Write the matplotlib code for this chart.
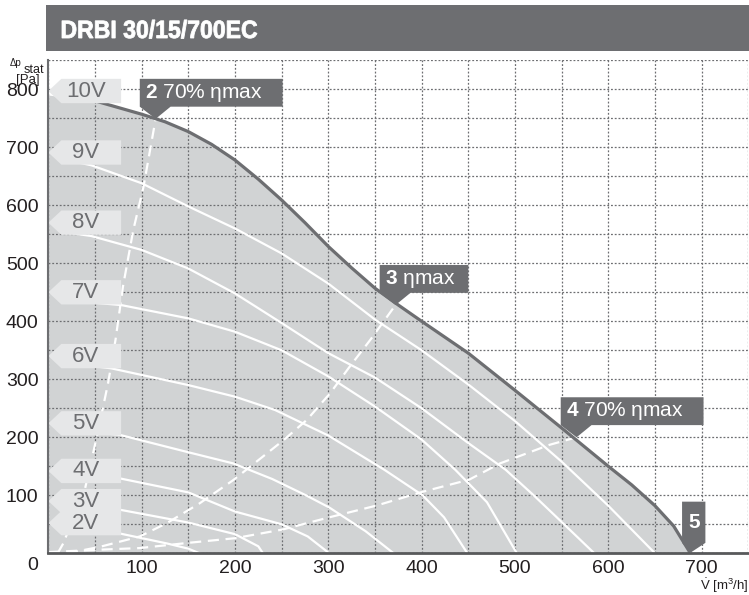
import matplotlib
matplotlib.use('Agg')
import matplotlib.pyplot as plt
from matplotlib.patches import Polygon, Rectangle, PathPatch
from matplotlib.textpath import TextPath
from matplotlib.font_manager import FontProperties
from matplotlib.transforms import Affine2D

plt.rcParams['font.family'] = ['Liberation Sans', 'DejaVu Sans']
plt.rcParams['mathtext.fontset'] = 'custom'
plt.rcParams['mathtext.rm'] = 'Liberation Sans'
plt.rcParams['mathtext.bf'] = 'Liberation Sans:bold'

DARK = '#6d6e71'
FILL = '#d1d3d4'
LABEL_BG = '#e6e7e8'
INK = '#231f20'

TITLE = 'DRBI 30/15/700EC'

# max curve (10V) - first point only closes the fill at the axis
max_x = [0, 50, 100, 125, 150, 175, 200, 225, 250, 275, 300, 325, 350, 375, 400,
         450, 500, 550, 600, 625, 650, 670, 688]
max_y = [790, 780, 757, 744, 727, 705, 678, 645, 609, 570, 529, 492, 457, 428, 400,
         345, 281, 216, 150, 118, 82, 47, 0]

# speed curves 9V .. 2V
v9_x = [20, 46, 100, 150, 200, 250, 300, 350, 400, 450, 500, 550, 600, 650]
v9_y = [678, 669, 638, 598, 560, 517, 465, 403, 350, 291, 228, 158, 82, 0]
v8_x = [20, 46, 100, 150, 200, 250, 300, 350, 400, 450, 490, 520, 550, 585]
v8_y = [553, 547, 523, 491, 448, 397, 345, 303, 250, 190, 144, 100, 54, 0]
v7_x = [20, 78, 150, 200, 250, 300, 350, 400, 436, 470, 502]
v7_y = [436, 428, 405, 382, 350, 305, 253, 196, 144, 88, 0]
v6_x = [20, 67, 150, 200, 243, 300, 360, 401, 424, 449]
v6_y = [328, 319, 290, 270, 247, 203, 144, 100, 62, 0]
v5_x = [20, 77, 148, 198, 240, 276, 301, 340, 370]
v5_y = [214, 204, 175, 155, 128, 100, 79, 38, 0]
v4_x = [20, 77, 150, 200, 250, 278, 301]
v4_y = [138, 129, 105, 72, 50, 29, 0]
v3_x = [20, 77, 150, 200, 225, 230]
v3_y = [85, 75, 53, 33, 12, 0]
v2_x = [20, 77, 127, 150, 162]
v2_y = [42, 34, 17, 8, 0]

# efficiency lines (dashed)
eff2_x = [10, 16, 39, 52, 64, 72, 80, 91, 102, 115]
eff2_y = [0, 17, 109, 201, 293, 368, 460, 557, 632, 749]
eff3_x = [20, 55, 98, 127, 162, 198, 234, 252, 277, 302, 323, 345, 372]
eff3_y = [0, 11, 29, 52, 86, 126, 172, 195, 230, 276, 322, 368, 428]
eff4_x = [0, 52, 98, 150, 200, 251, 301, 351, 401, 451, 484, 537, 566]
eff4_y = [2, 6, 9, 18, 26, 41, 62, 82, 106, 127, 155, 187, 200]

speed_labels = ['10V', '9V', '8V', '7V', '6V', '5V', '4V', '3V', '2V']
speed_label_y = [797, 691, 570, 450, 340, 224, 142, 90, 52]

x_ticks = [100, 200, 300, 400, 500, 600, 700]
y_ticks = [100, 200, 300, 400, 500, 600, 700, 800]

# callouts: bold number, rest of text, tip point, box width (data units)
callouts = [
    ('2', ' 70% ηmax', 115, 749, 153),
    ('3', ' ηmax', 372, 428, 95),
    ('4', ' 70% ηmax', 566, 200, 153),
]

fig = plt.figure(figsize=(7.49, 5.95), dpi=100)

# title band, title squeezed to look like a condensed face
fig.patches.append(Rectangle((46 / 749, 1 - 51 / 595), 1, 46 / 595,
                             transform=fig.transFigure, color=DARK, lw=0))
tp = TextPath((0, 0), TITLE, size=25, prop=FontProperties(family='Liberation Sans', weight='bold'))
ext = tp.get_extents()
sx = 195 / ext.width
fig.patches.append(PathPatch(tp, facecolor='white', edgecolor='white', lw=0.6,
                             transform=Affine2D().scale(sx, 1).translate(62 - ext.x0 * sx, 595 - 38)))

ax = fig.add_axes([0.0645, 0.0701, 0.9346, 0.8286])
ax.set_xlim(0, 750)
ax.set_ylim(0, 850)

ax.fill_between(max_x, max_y, 0, color=FILL, lw=0, zorder=1)
ax.plot(max_x[1:], max_y[1:], color=DARK, lw=2.3, zorder=5, solid_capstyle='butt',
        solid_joinstyle='round')

for xs, ys in [(v9_x, v9_y), (v8_x, v8_y), (v7_x, v7_y), (v6_x, v6_y),
               (v5_x, v5_y), (v4_x, v4_y), (v3_x, v3_y), (v2_x, v2_y)]:
    ax.plot(xs, ys, color='white', lw=1.6, zorder=3, solid_joinstyle='round')

for xs, ys in [(eff2_x, eff2_y), (eff3_x, eff3_y), (eff4_x, eff4_y)]:
    ax.plot(xs, ys, color='white', lw=1.6, dashes=(5, 3), zorder=3)

# grid every 50
ax.set_xticks(x_ticks)
ax.set_xticklabels([str(v) for v in x_ticks])
ax.set_yticks(y_ticks)
ax.set_yticklabels([str(v) for v in y_ticks])
ax.set_xticks(range(0, 751, 50), minor=True)
ax.set_yticks(range(0, 851, 50), minor=True)
ax.set_axisbelow(False)
ax.grid(True, which='both', color=DARK, lw=0.9, linestyle=(0, (1.5, 1.5)))
ax.tick_params(which='both', length=0)
ax.tick_params(axis='x', pad=5, labelsize=14, labelcolor=INK)
ax.tick_params(axis='y', pad=7, labelsize=14, labelcolor=INK)

for s in ['top', 'right']:
    ax.spines[s].set_visible(False)
ax.spines['left'].set_color(DARK)
ax.spines['left'].set_linewidth(1.5)
ax.spines['bottom'].set_color('#58595b')
ax.spines['bottom'].set_linewidth(2)
ax.spines['left'].set_zorder(7)
ax.spines['bottom'].set_zorder(7)

# voltage labels (pentagon tags pointing at the axis)
for lab, yc in zip(speed_labels, speed_label_y):
    tag = Polygon([(0, yc), (14, yc + 21), (78, yc + 21), (78, yc - 21), (14, yc - 21)],
                  closed=True, color=LABEL_BG, lw=0, zorder=6, clip_on=False)
    ax.add_patch(tag)
    ax.text(40, yc, lab, color=DARK, fontsize=16, ha='center', va='center', zorder=7)

# callout boxes
for num, rest, tx, ty, w in callouts:
    L = tx - 17
    B = ty + 21
    T = B + 48
    box = Polygon([(L, T), (L + w, T), (L + w, B), (L + 33, B), (tx, ty), (L, B)],
                  closed=True, color=DARK, lw=0, zorder=8)
    ax.add_patch(box)
    ax.text(L + 6, (B + T) / 2, r'$\mathbf{' + num + '}$' + rest, color='white',
            fontsize=15, ha='left', va='center', zorder=9)

# callout 5 at the end of the curve
tip_x, tip_y = max_x[-1], max_y[-1]
box5 = Polygon([(tip_x - 9, 89), (tip_x + 16, 89), (tip_x + 16, 18), (tip_x, tip_y + 1),
                (tip_x - 9, 18)], closed=True, color=DARK, lw=0, zorder=8)
ax.add_patch(box5)
ax.text(tip_x + 3.5, 53, '5', color='white', fontsize=15, fontweight='bold',
        ha='center', va='center', zorder=9)

# axis titles
fig.text(22 / 749, 1 - 66 / 595, 'Δp', fontsize=7, color=INK, ha='right', va='baseline')
fig.text(24 / 749, 1 - 73 / 595, 'stat', fontsize=9, color=INK, ha='left', va='baseline')
fig.text(40 / 749, 1 - 83 / 595, '[Pa]', fontsize=9.5, color=INK, ha='right', va='baseline')
fig.text(38 / 749, 1 - 565 / 595, '0', fontsize=14, color=INK, ha='right', va='center')
fig.text(749 / 749, 1 - 586 / 595, r'$\dot{\mathrm{V}}$ [m$^3$/h]', fontsize=9.5,
         color=INK, ha='right', va='center')

fig.savefig('out.png', dpi=100)
